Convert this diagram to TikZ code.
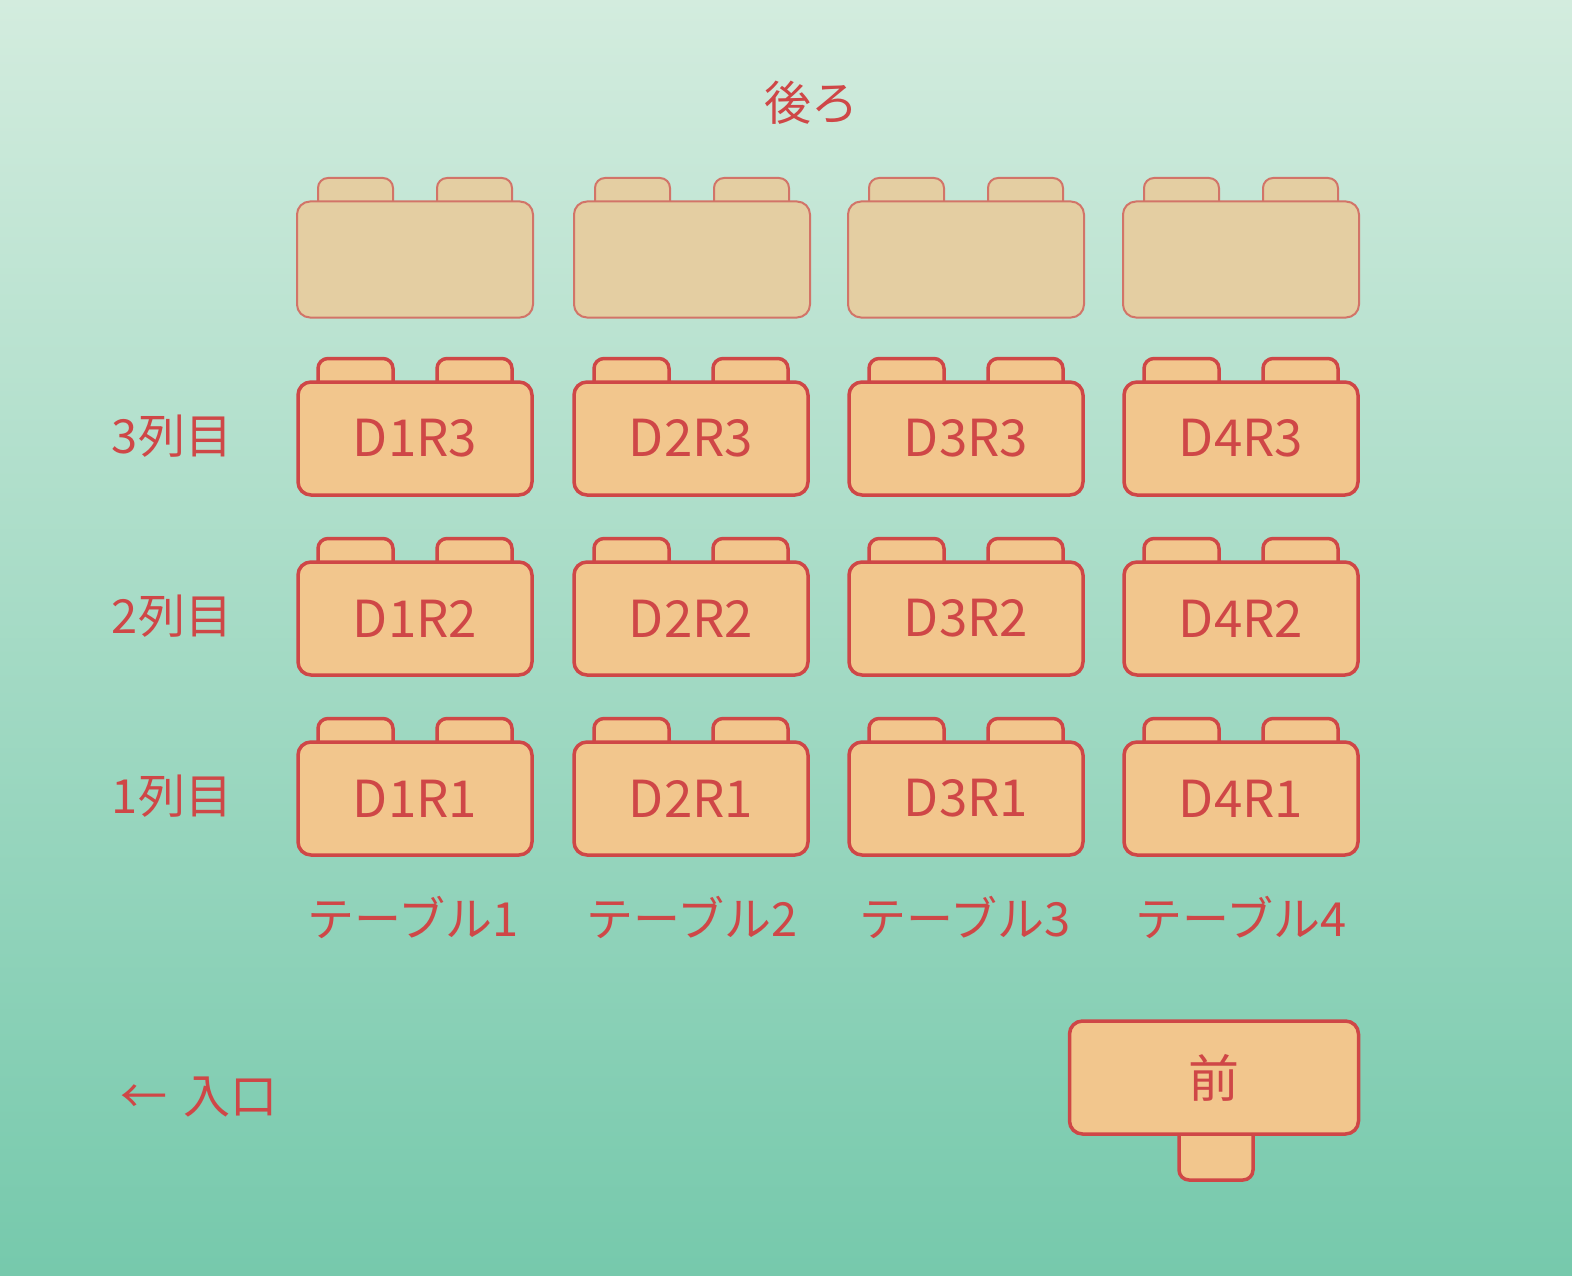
\documentclass[tikz,border=0pt]{standalone}
\usepackage{fontspec}
\setmainfont{Noto Sans CJK JP}
\usetikzlibrary{positioning}
\definecolor{deskred}{HTML}{CF4747}
\definecolor{deskfill}{HTML}{F2C68D}
\definecolor{ghostfill}{HTML}{E4CEA2}
\definecolor{ghostline}{HTML}{D27468}
\definecolor{bgtop}{HTML}{D3ECDE}
\definecolor{bgbottom}{HTML}{76C9AC}
\tikzset{
  desk/.style={draw=deskred, fill=deskfill, line width=3.5pt, rounded corners=13pt,
    minimum width=234pt, minimum height=113pt, inner sep=0pt, text=deskred,
    font=\fontsize{51}{60}\selectfont},
  ghost/.style={desk, draw=ghostline, fill=ghostfill, line width=2pt, minimum width=236pt, minimum height=116pt},
  seat/.style={draw=deskred, fill=deskfill, line width=3.5pt, rounded corners=10pt},
  ghostseat/.style={seat, draw=ghostline, fill=ghostfill, line width=2pt},
  lbl/.style={text=deskred, font=\fontsize{47}{56}\selectfont, inner sep=0pt}
}
\begin{document}
\begin{tikzpicture}[x=1pt,y=-1pt]
\shade[top color=bgtop, bottom color=bgbottom] (0,0) rectangle (1572,1276);
\useasboundingbox (0,0) rectangle (1572,1276);
\node[lbl] (back) at (811,103) {後ろ};
% back row (empty desks)
\foreach \c/\x in {1/415,2/692,3/966,4/1241} {
  \draw[ghostseat] (\x-97,209) -- (\x-97,178) -- (\x-22,178) -- (\x-22,209);
  \draw[ghostseat] (\x+22,209) -- (\x+22,178) -- (\x+97,178) -- (\x+97,209);
  \node[ghost] (g\c) at (\x,259.5) {};
}
% rows 3..1
\foreach \r/\y in {3/438.5,2/618.5,1/798.5} {
  \node[lbl] (row\r) at (172,\y-2) {{\r}列目};
  \foreach \c/\x in {1/415,2/691,3/966,4/1241} {
    \draw[seat] (\x-97,\y-50) -- (\x-97,\y-80) -- (\x-22,\y-80) -- (\x-22,\y-50);
    \draw[seat] (\x+22,\y-50) -- (\x+22,\y-80) -- (\x+97,\y-80) -- (\x+97,\y-50);
    \node[desk] (d\c r\r) at (\x,\y) {D\c R\r};
  }
}
\foreach \c/\x in {1/413,2/692,3/965,4/1241}
  \node[lbl] (tbl\c) at (\x,917) {テーブル{\c}};
% front
\draw[seat] (1179,1120) -- (1179,1180) -- (1253,1180) -- (1253,1120);
\node[desk, minimum width=289pt] (front) at (1214,1077.5) {前};
\node[lbl, anchor=west] (door) at (120,1097) {←\hspace{6pt} 入口};
\end{tikzpicture}
\end{document}
